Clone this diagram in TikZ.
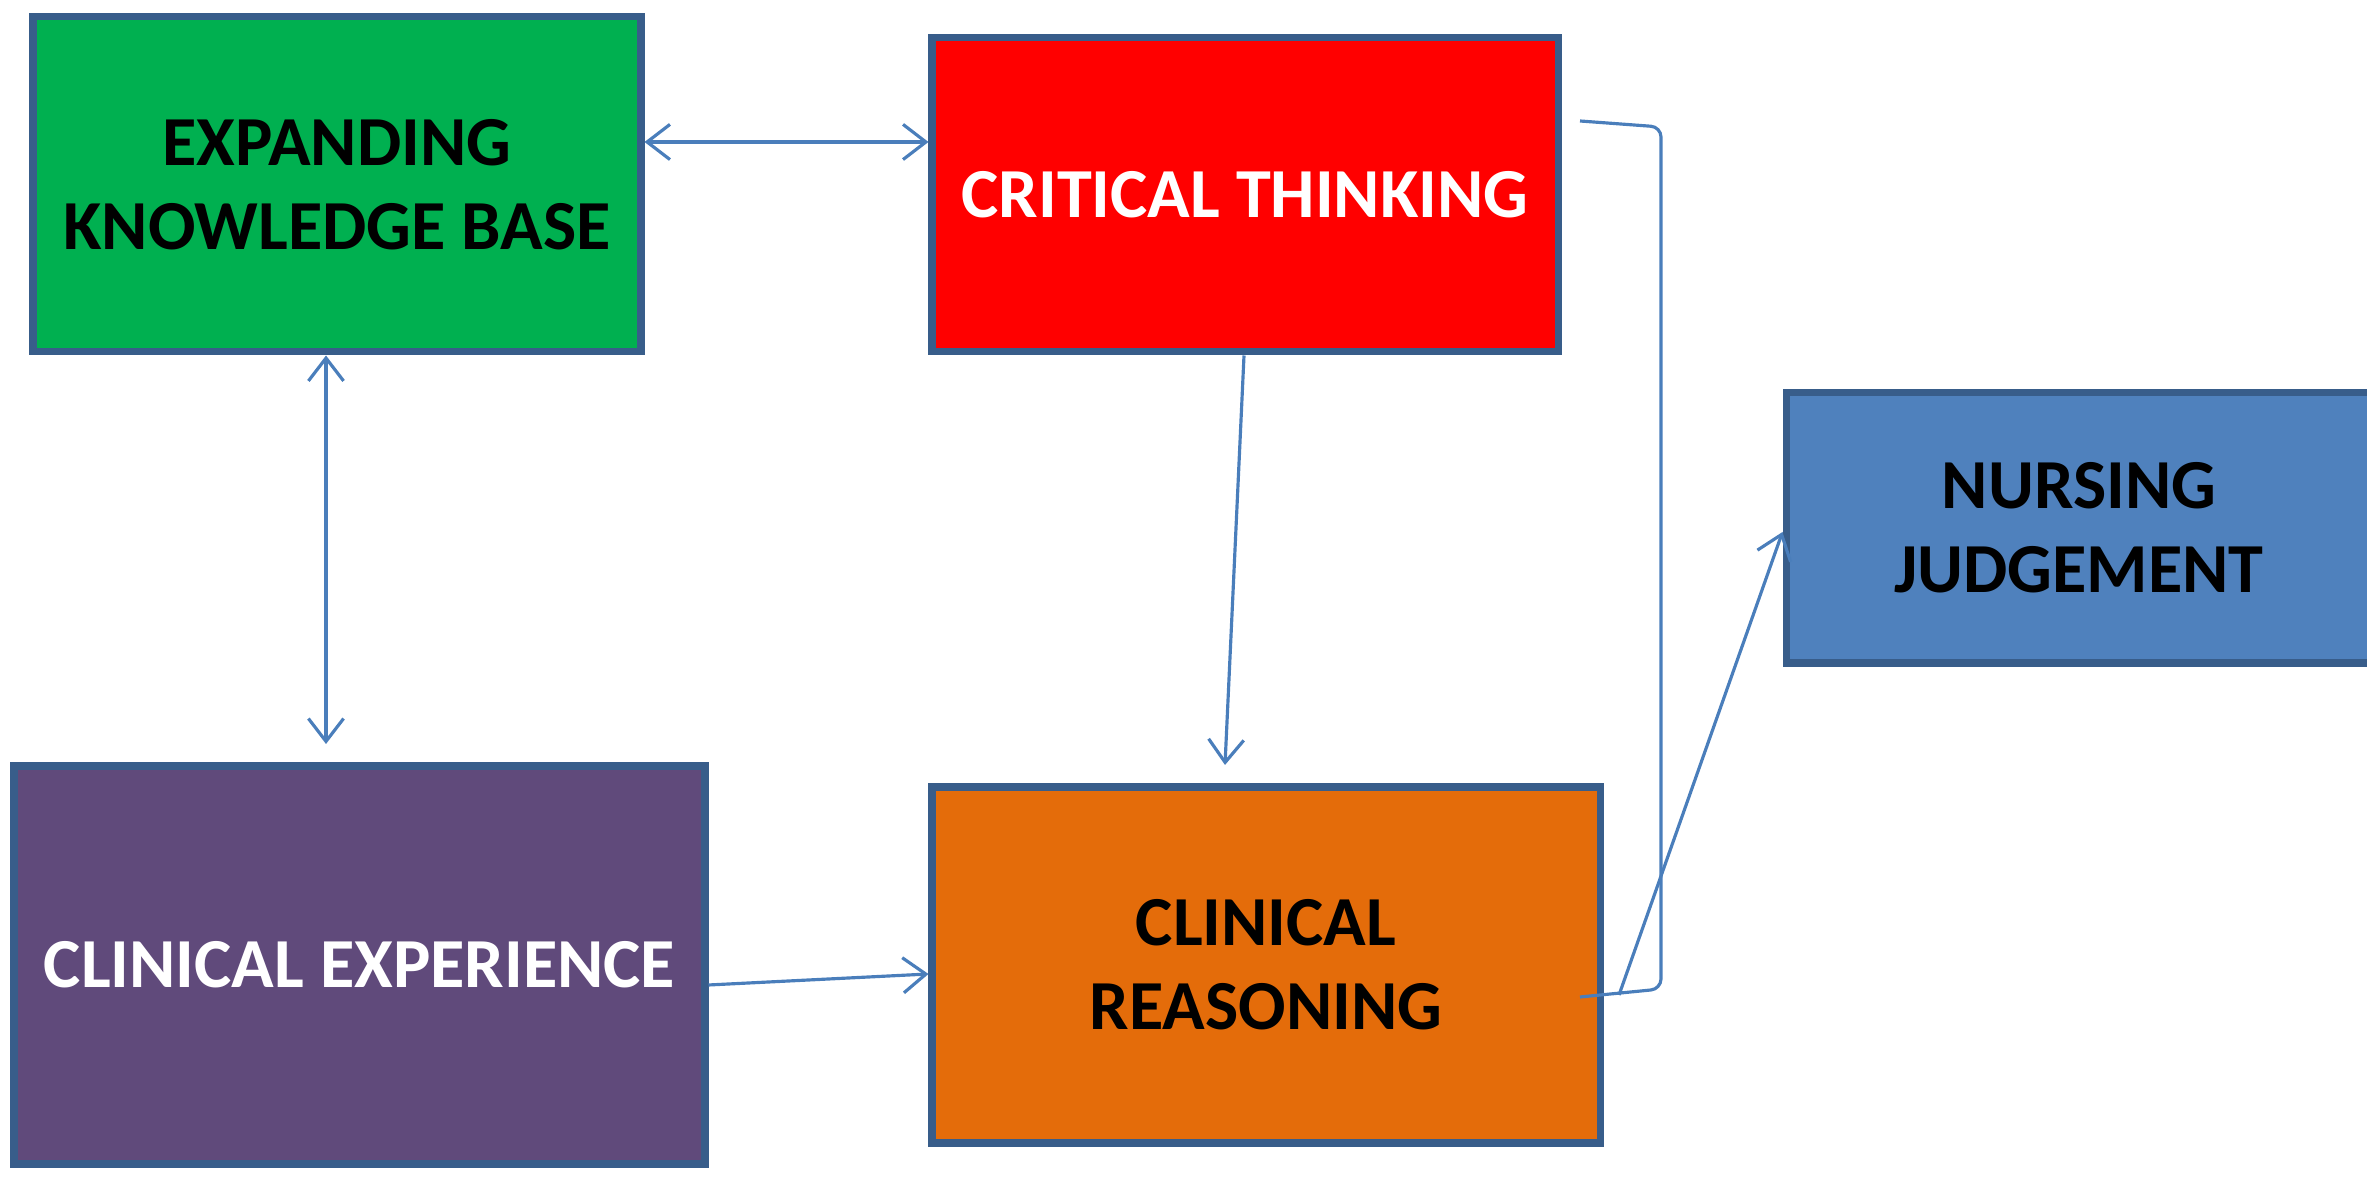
\documentclass[tikz,border=0pt]{standalone}
\usepackage{xcolor}
\usepackage{fontspec}
\setmainfont{Carlito}
\usetikzlibrary{arrows.meta}

\definecolor{boxline}{HTML}{385D8A}
\definecolor{linkblue}{HTML}{4A7EBB}
\definecolor{kbgreen}{HTML}{00B050}
\definecolor{ctred}{HTML}{FF0000}
\definecolor{njblue}{HTML}{4F81BD}
\definecolor{cepurple}{HTML}{604A7B}
\definecolor{crorange}{HTML}{E46C0A}

\begin{document}
\begin{tikzpicture}[
  box/.style={draw=boxline, line width=2pt, inner sep=0pt, align=center,
    font=\fontsize{20}{24}\selectfont\bfseries},
  link/.style={draw=linkblue, line width=0.9pt}
]
\useasboundingbox (0,0) rectangle (23.67,11.81);

% the five boxes
\node[box, fill=kbgreen, minimum width=6.08cm, minimum height=3.35cm] (knowledge) at (3.37,9.965) {EXPANDING\\KNOWLEDGE BASE};
\node[box, fill=ctred, text=white, minimum width=6.26cm, minimum height=3.14cm] (critical) at (12.45,9.86) {CRITICAL THINKING};
\node[box, fill=njblue, minimum width=5.86cm, minimum height=2.70cm] (judgement) at (20.79,6.53) {NURSING\\JUDGEMENT};
\node[box, fill=cepurple, text=white, minimum width=6.91cm, minimum height=3.98cm] (experience) at (3.595,2.16) {CLINICAL EXPERIENCE};
\node[box, fill=crorange, minimum width=6.68cm, minimum height=3.56cm] (reasoning) at (12.66,2.16) {CLINICAL\\REASONING};

% free ends
\coordinate (kEnd) at (3.26,4.37);
\coordinate (cEnd) at (12.25,4.16);
\coordinate (jStart) at (16.19,1.86);

% connectors
\draw[link, {Straight Barb[length=6.5pt,width=10pt]}-{Straight Barb[length=6.5pt,width=10pt]}] ([yshift=4.25mm]knowledge.east) -- ([yshift=4.25mm]knowledge.east -| critical.west);
\draw[link, {Straight Barb[length=6.5pt,width=10pt]}-{Straight Barb[length=6.5pt,width=10pt]}] (knowledge.south -| kEnd) -- (kEnd);
\draw[link, -{Straight Barb[length=6.5pt,width=10pt]}] ([xshift=-0.1mm]critical.south) -- (cEnd);
\draw[link, -{Straight Barb[length=6.5pt,width=10pt]}] ([yshift=-2mm]experience.east) -- ([yshift=-0.9mm]reasoning.west);

% bracket joining thinking and reasoning
\draw[link, rounded corners=1mm] (15.80,10.60) -- (16.61,10.54) -- (16.61,1.92) -- (15.80,1.84);
\draw[link, -{Straight Barb[length=6.5pt,width=10pt]}] (jStart) -- ([yshift=-0.4mm]judgement.west);
\end{tikzpicture}
\end{document}
